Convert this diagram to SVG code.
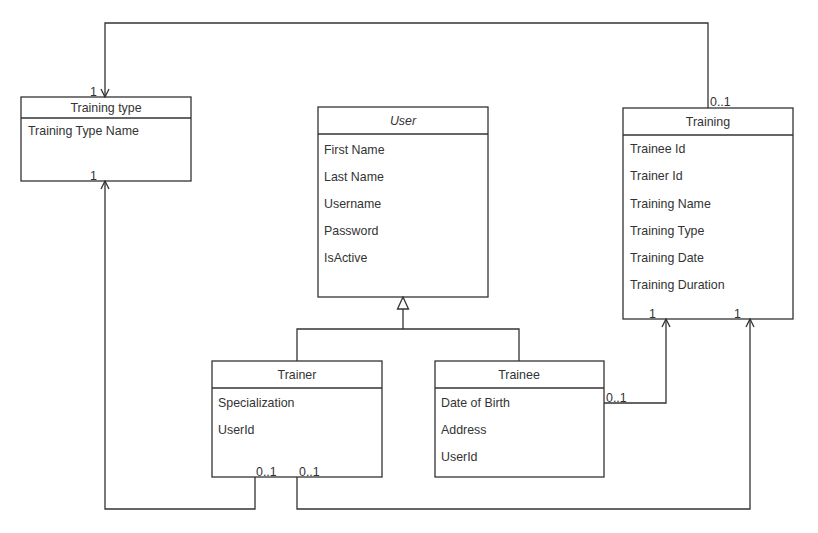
<svg xmlns="http://www.w3.org/2000/svg" width="818" height="533" viewBox="0 0 818 533">
<defs>
<style>
.box{fill:#fff;stroke:#333;stroke-width:1.3}
.ln{fill:none;stroke:#333;stroke-width:1.3}
text{font-family:"Liberation Sans",Arial,sans-serif;font-size:12.4px;fill:#333}
.t{text-anchor:middle}
.i{font-style:italic}
</style>
<marker id="open" markerWidth="10" markerHeight="10" refX="9" refY="5" orient="auto" markerUnits="userSpaceOnUse">
<path d="M1,1 L9,5 L1,9" fill="none" stroke="#333" stroke-width="1.3"/>
</marker>
<marker id="gen" markerWidth="14" markerHeight="14" refX="13" refY="7" orient="auto" markerUnits="userSpaceOnUse">
<path d="M1,1.5 L13,7 L1,12.5 Z" fill="#fff" stroke="#333" stroke-width="1.3"/>
</marker>
</defs>
<rect width="818" height="533" fill="#fff"/>
<g id="training-type">
<rect class="box" x="21" y="97" width="170" height="84"/>
<line class="ln" x1="21" y1="118" x2="191" y2="118"/>
<text class="t" x="106" y="112">Training type</text>
<text x="28" y="135">Training Type Name</text>
</g>
<g id="user">
<rect class="box" x="318" y="107" width="170" height="190"/>
<line class="ln" x1="318" y1="134" x2="488" y2="134"/>
<text class="t i" x="403" y="125">User</text>
<text x="324" y="154">First Name</text>
<text x="324" y="181">Last Name</text>
<text x="324" y="208">Username</text>
<text x="324" y="235">Password</text>
<text x="324" y="262">IsActive</text>
</g>
<g id="training">
<rect class="box" x="623" y="108" width="170" height="211"/>
<line class="ln" x1="623" y1="135" x2="793" y2="135"/>
<text class="t" x="708" y="126">Training</text>
<text x="630" y="153">Trainee Id</text>
<text x="630" y="180">Trainer Id</text>
<text x="630" y="208">Training Name</text>
<text x="630" y="235">Training Type</text>
<text x="630" y="262">Training Date</text>
<text x="630" y="289">Training Duration</text>
</g>
<g id="trainer">
<rect class="box" x="212" y="361" width="170" height="116"/>
<line class="ln" x1="212" y1="388" x2="382" y2="388"/>
<text class="t" x="297" y="379">Trainer</text>
<text x="218" y="407">Specialization</text>
<text x="218" y="434">UserId</text>
</g>
<g id="trainee">
<rect class="box" x="435" y="361" width="169" height="116"/>
<line class="ln" x1="435" y1="388" x2="604" y2="388"/>
<text class="t" x="519" y="379">Trainee</text>
<text x="441" y="407">Date of Birth</text>
<text x="441" y="434">Address</text>
<text x="441" y="461">UserId</text>
</g>
<g id="connectors">
<path class="ln" d="M708,108 V23 H105 V97" marker-end="url(#open)"/>
<path class="ln" d="M255,477 V509 H105 V181" marker-end="url(#open)"/>
<path class="ln" d="M297,477 V509 H750 V319" marker-end="url(#open)"/>
<path class="ln" d="M604,403 H666 V319" marker-end="url(#open)"/>
<path class="ln" d="M297,361 V329 H519 V361"/>
<path class="ln" d="M403,329 V297" marker-end="url(#gen)"/>
<text x="90" y="96">1</text>
<text x="90" y="180">1</text>
<text x="710" y="106">0..1</text>
<text x="649" y="318">1</text>
<text x="734" y="318">1</text>
<text x="256" y="476">0..1</text>
<text x="299" y="476">0..1</text>
<text x="606" y="402">0..1</text>
</g>
</svg>
